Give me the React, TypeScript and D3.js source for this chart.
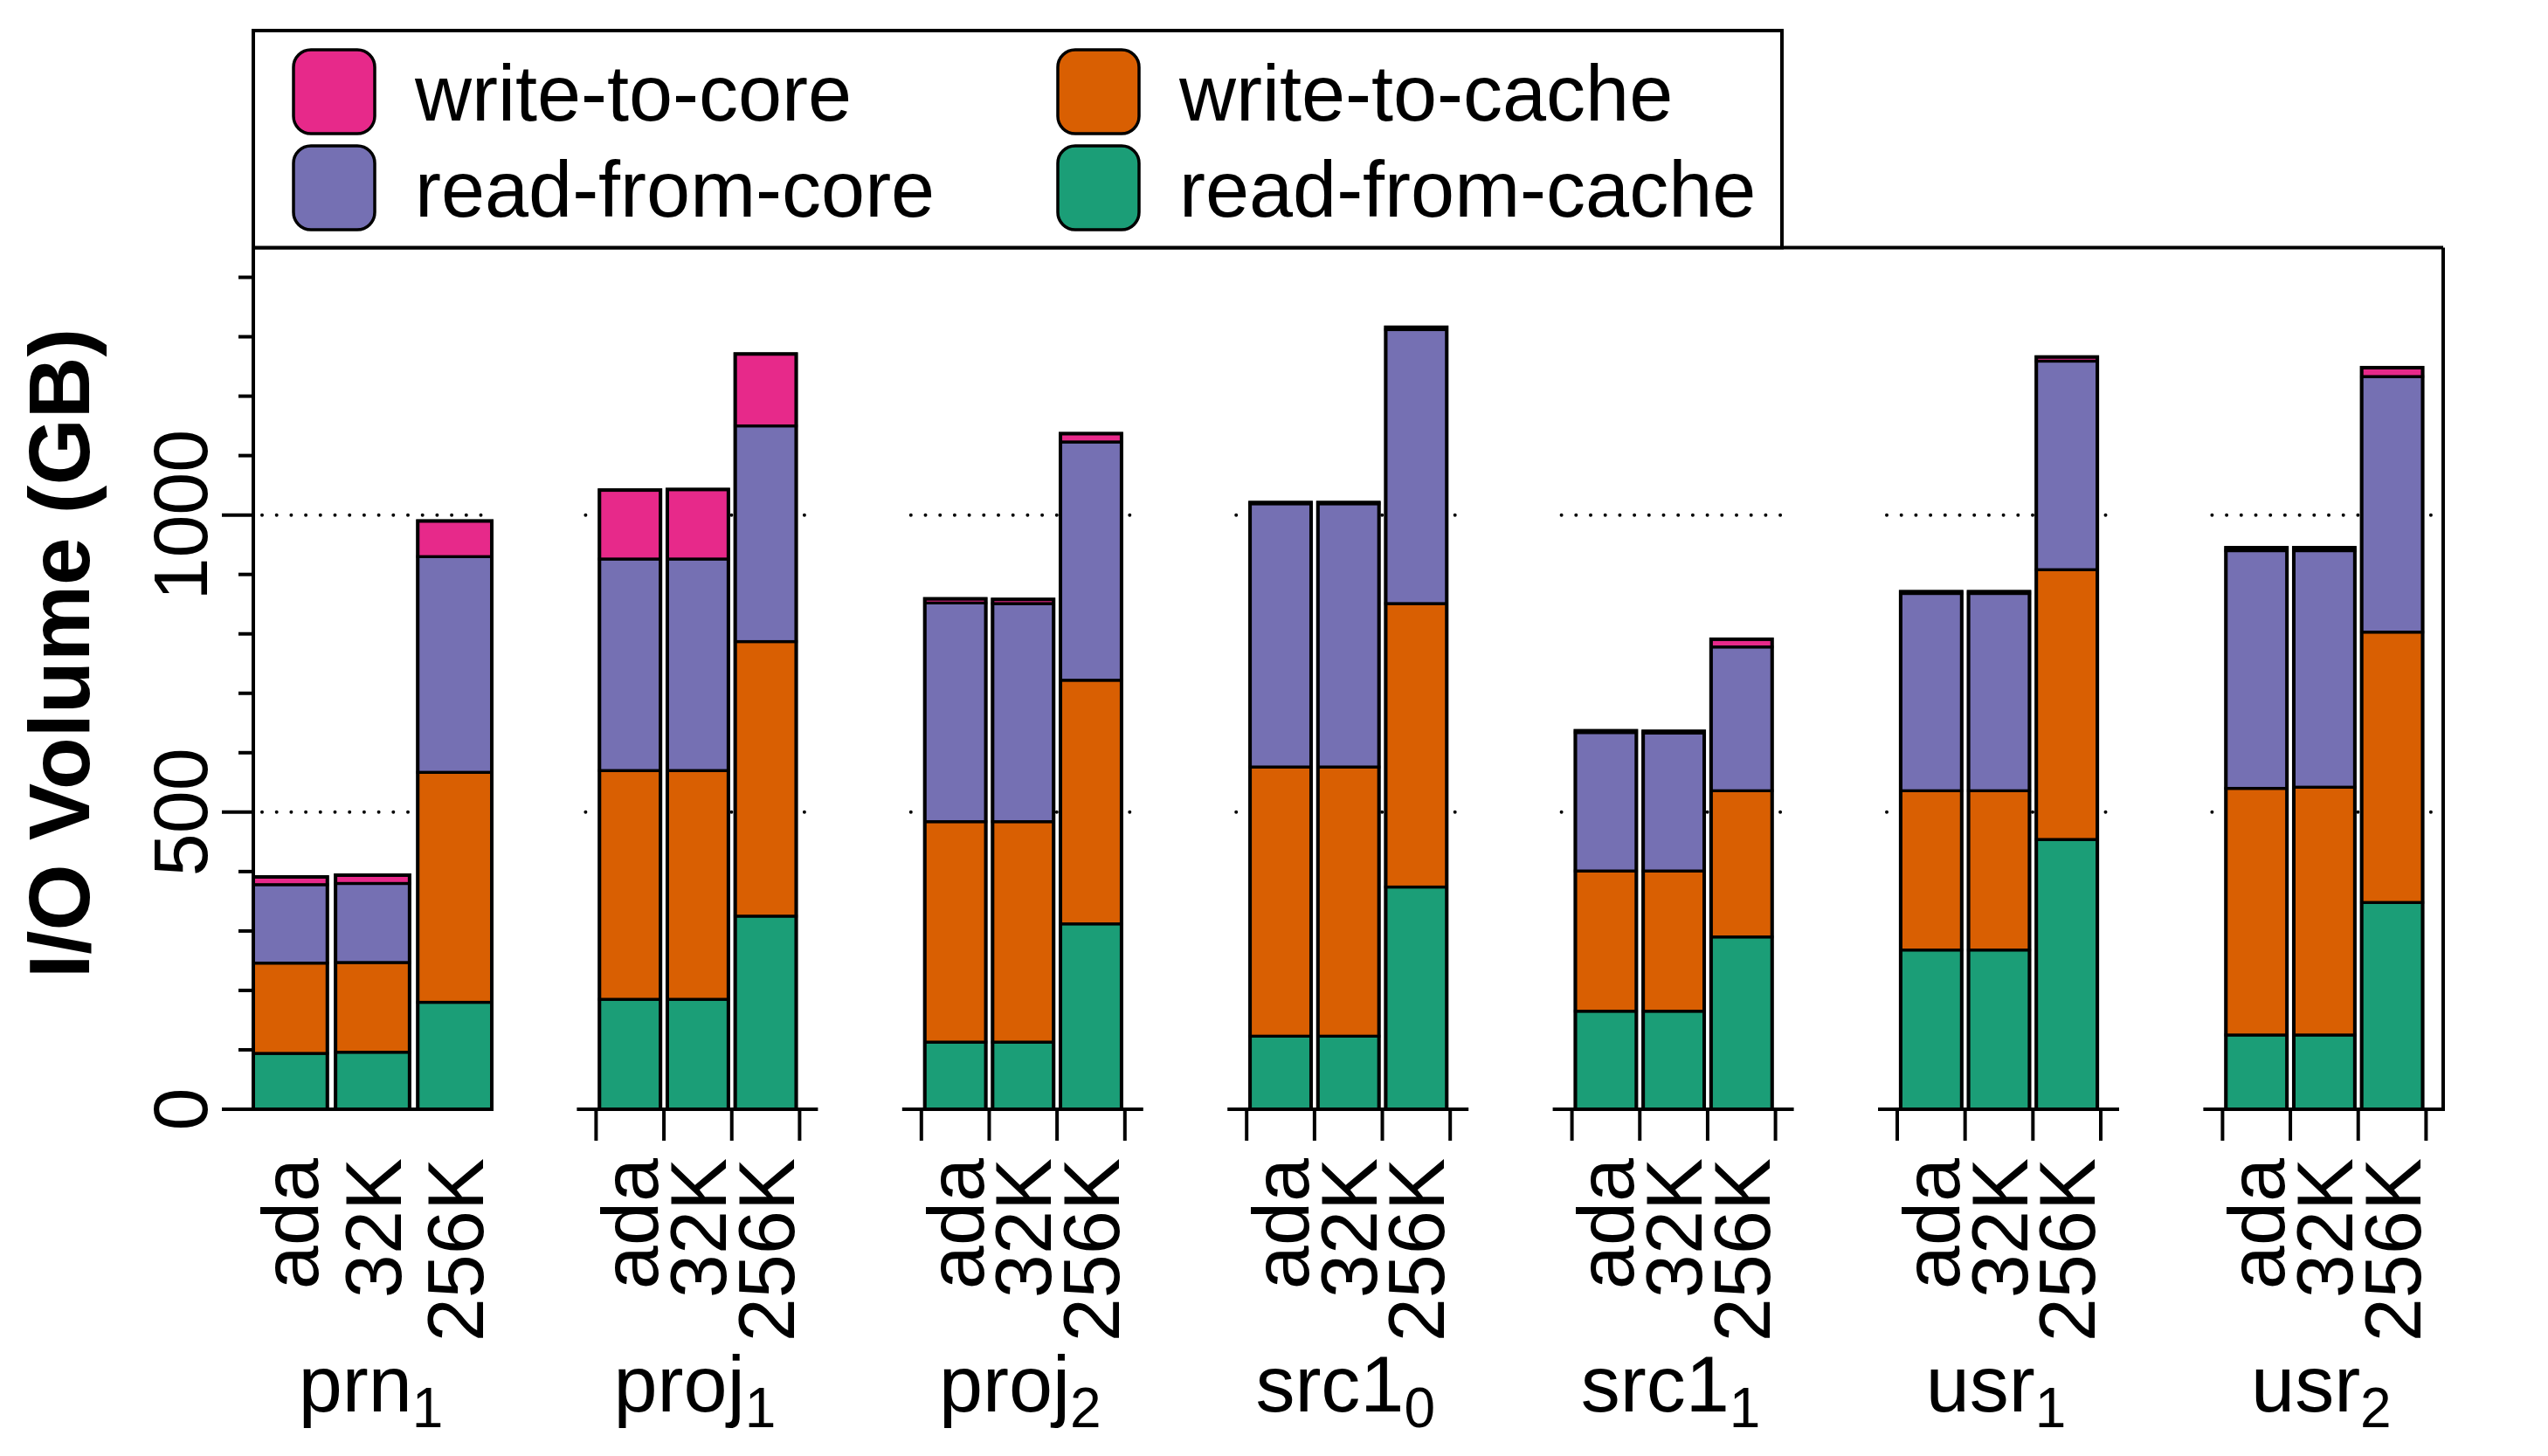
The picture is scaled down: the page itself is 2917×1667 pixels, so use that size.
// App
import { useEffect, useRef } from 'react';
import * as d3 from 'd3';

// traces (with subscript) and cache configurations
const traces = ['prn', 'proj', 'proj', 'src1', 'src1', 'usr', 'usr'];
const traceSubs = ['1', '1', '2', '0', '1', '1', '2'];
const configs = ['ada', '32K', '256K'];

// I/O volume in GB, one value per bar: trace by trace, ada / 32K / 256K
const readFromCache = [94, 96, 180, 185, 185, 325, 113, 113, 312, 123, 123, 374, 165, 165, 290, 268, 268, 454, 125, 125, 348];
const writeToCache = [152, 151, 387, 385, 385, 462, 371, 371, 410, 453, 453, 477, 236, 236, 246, 268, 268, 454, 415, 417, 455];
const readFromCore = [132, 133, 363, 356, 356, 363, 368, 367, 401, 443, 443, 461, 233, 232, 242, 332, 332, 351, 400, 398, 430];
const writeToCore = [13, 14, 60, 116, 117, 121, 7, 7, 14, 2, 2, 4, 3, 3, 13, 3, 3, 7, 5, 5, 15];

const seriesNames = ['read-from-cache', 'write-to-cache', 'read-from-core', 'write-to-core'];
const seriesColors = ['#1b9e77', '#d95f02', '#7570b3', '#e7298a'];
const legendOrder = ['write-to-core', 'write-to-cache', 'read-from-core', 'read-from-cache'];

const majorTicks = [0, 500, 1000];
const minorTicks = [100, 200, 300, 400, 600, 700, 800, 900, 1100, 1200, 1300, 1400];
const gridLevels = [500, 1000];

function App() {
	const ref = useRef<SVGSVGElement>(null);
	const width = 2917;
	const height = 1667;

	useEffect(() => {
		document.body.style.margin = '0';
		drawChart();

		function drawChart() {
			const svg = d3.select(ref.current);
			svg.selectAll('*').remove();
			const font = "'Liberation Sans', Arial, Helvetica, sans-serif";

			const left = 290;
			const top = 283.5;
			const bottom = 1270;
			const right = 2797;
			const panelW = 276;
			const panelX = d3.scaleLinear().domain([0, 1]).range([288, 288 + 372.4]);

			const y = d3.scaleLinear().domain([0, 1450]).range([bottom, top]);

			const color = d3.scaleOrdinal<string, string>().domain(seriesNames).range(seriesColors);

			// first panel is filled edge to edge, the others have a margin
			const bands = traces.map((_, i) => {
				const x0 = panelX(i);
				return i === 0
					? d3.scaleBand<string>().domain(configs).range([left, 563]).paddingInner(0.1).paddingOuter(0)
					: d3.scaleBand<string>().domain(configs).range([x0 + 22, x0 + 255]).paddingInner(0.1).paddingOuter(0.05);
			});

			const rows = traces.flatMap((_, i) =>
				configs.map((c, j) => {
					const k = i * 3 + j;
					return {
						trace: i,
						config: c,
						'read-from-cache': readFromCache[k],
						'write-to-cache': writeToCache[k],
						'read-from-core': readFromCore[k],
						'write-to-core': writeToCore[k]
					};
				})
			);

			const stacked = d3.stack<any>().keys(seriesNames)(rows);

			// dotted reference lines
			traces.forEach((_, i) => {
				const x0 = i === 0 ? left : panelX(i);
				gridLevels.forEach((v) => {
					svg.append('line')
						.attr('x1', x0 + 10)
						.attr('x2', panelX(i) + panelW - 2)
						.attr('y1', y(v))
						.attr('y2', y(v))
						.attr('stroke', '#000')
						.attr('stroke-width', 4)
						.attr('stroke-linecap', 'round')
						.attr('stroke-dasharray', '0 16.7');
				});
			});

			// stacked bars
			stacked.forEach((layer) => {
				svg.append('g')
					.selectAll('rect')
					.data(layer)
					.enter()
					.append('rect')
					.attr('x', (d: any) => bands[d.data.trace](d.data.config) as number)
					.attr('width', (d: any) => bands[d.data.trace].bandwidth())
					.attr('y', (d) => y(d[1]))
					.attr('height', (d) => y(d[0]) - y(d[1]))
					.attr('fill', color(layer.key))
					.attr('stroke', '#000')
					.attr('stroke-width', 3.3);
			});

			// bar outlines
			const totals = stacked[stacked.length - 1];
			svg.append('g')
				.selectAll('rect')
				.data(totals)
				.enter()
				.append('rect')
				.attr('x', (d: any) => bands[d.data.trace](d.data.config) as number)
				.attr('width', (d: any) => bands[d.data.trace].bandwidth())
				.attr('y', (d) => y(d[1]))
				.attr('height', (d) => y(0) - y(d[1]))
				.attr('fill', 'none')
				.attr('stroke', '#000')
				.attr('stroke-width', 4);

			const axisStroke = 4;

			// y axis
			svg.append('line')
				.attr('x1', left).attr('x2', left)
				.attr('y1', top).attr('y2', bottom + axisStroke / 2)
				.attr('stroke', '#000').attr('stroke-width', axisStroke);
			majorTicks.forEach((v) => {
				svg.append('line')
					.attr('x1', left - 36).attr('x2', left)
					.attr('y1', y(v)).attr('y2', y(v))
					.attr('stroke', '#000').attr('stroke-width', axisStroke);
				svg.append('text')
					.attr('transform', `translate(237, ${y(v)}) rotate(-90)`)
					.attr('text-anchor', 'middle')
					.style('font-family', font)
					.style('font-size', '88px')
					.text(v);
			});
			minorTicks.forEach((v) => {
				svg.append('line')
					.attr('x1', left - 17).attr('x2', left)
					.attr('y1', y(v)).attr('y2', y(v))
					.attr('stroke', '#000').attr('stroke-width', axisStroke);
			});

			svg.append('text')
				.attr('transform', `translate(102, 748) rotate(-90)`)
				.attr('text-anchor', 'middle')
				.style('font-family', font)
				.style('font-weight', 'bold')
				.style('font-size', '98px')
				.text('I/O Volume (GB)');

			// per panel x axis, ticks and labels
			traces.forEach((t, i) => {
				const x0 = i === 0 ? left : panelX(i);
				const band = bands[i];
				svg.append('line')
					.attr('x1', x0).attr('x2', panelX(i) + panelW)
					.attr('y1', bottom).attr('y2', bottom)
					.attr('stroke', '#000').attr('stroke-width', axisStroke);

				if (i > 0) {
					const r0 = band.range()[0];
					d3.range(configs.length + 1).forEach((j) => {
						const tx = r0 + j * band.step();
						svg.append('line')
							.attr('x1', tx).attr('x2', tx)
							.attr('y1', bottom).attr('y2', bottom + 36)
							.attr('stroke', '#000').attr('stroke-width', axisStroke);
					});
				}

				configs.forEach((c) => {
					const cx = (band(c) as number) + band.bandwidth() / 2;
					svg.append('text')
						.attr('transform', `translate(${cx + 32}, 1326) rotate(-90)`)
						.attr('text-anchor', 'end')
						.style('font-family', font)
						.style('font-size', '90px')
						.text(c);
				});

				const range = band.range();
				const center = i === 0 ? (range[0] + range[1]) / 2 - 2 : panelX(i) + panelW / 2 - 3;
				const label = svg.append('text')
					.attr('x', center)
					.attr('y', 1616)
					.attr('text-anchor', 'middle')
					.style('font-family', font)
					.style('font-size', '90px');
				label.append('tspan').text(t);
				label.append('tspan')
					.attr('dy', 18)
					.style('font-size', '64px')
					.text(traceSubs[i]);
			});

			// frame: top and right
			svg.append('line')
				.attr('x1', left).attr('x2', right)
				.attr('y1', top).attr('y2', top)
				.attr('stroke', '#000').attr('stroke-width', axisStroke);
			svg.append('line')
				.attr('x1', right).attr('x2', right)
				.attr('y1', top).attr('y2', bottom + axisStroke / 2)
				.attr('stroke', '#000').attr('stroke-width', axisStroke);

			// legend
			const legend = svg.append('g');
			legend.append('rect')
				.attr('x', left).attr('y', 35)
				.attr('width', 2040 - left).attr('height', top - 35)
				.attr('fill', '#fff')
				.attr('stroke', '#000').attr('stroke-width', axisStroke);
			const colX = [336, 1211];
			const rowY = [57, 167];
			legendOrder.forEach((name, k) => {
				const col = k % 2;
				const row = Math.floor(k / 2);
				legend.append('rect')
					.attr('x', colX[col]).attr('y', rowY[row])
					.attr('width', 93).attr('height', 96)
					.attr('rx', 20).attr('ry', 20)
					.attr('fill', color(name))
					.attr('stroke', '#000').attr('stroke-width', 3.5);
				legend.append('text')
					.attr('x', colX[col] + 139)
					.attr('y', rowY[row] + 81)
					.style('font-family', font)
					.style('font-size', '90px')
					.text(name);
			});
		}
	}, [width, height]);

	return (
		<div>
			<svg ref={ref} width={width} height={height} style={{ display: 'block', background: '#fff' }} />
		</div>
	);
}

export default App;
